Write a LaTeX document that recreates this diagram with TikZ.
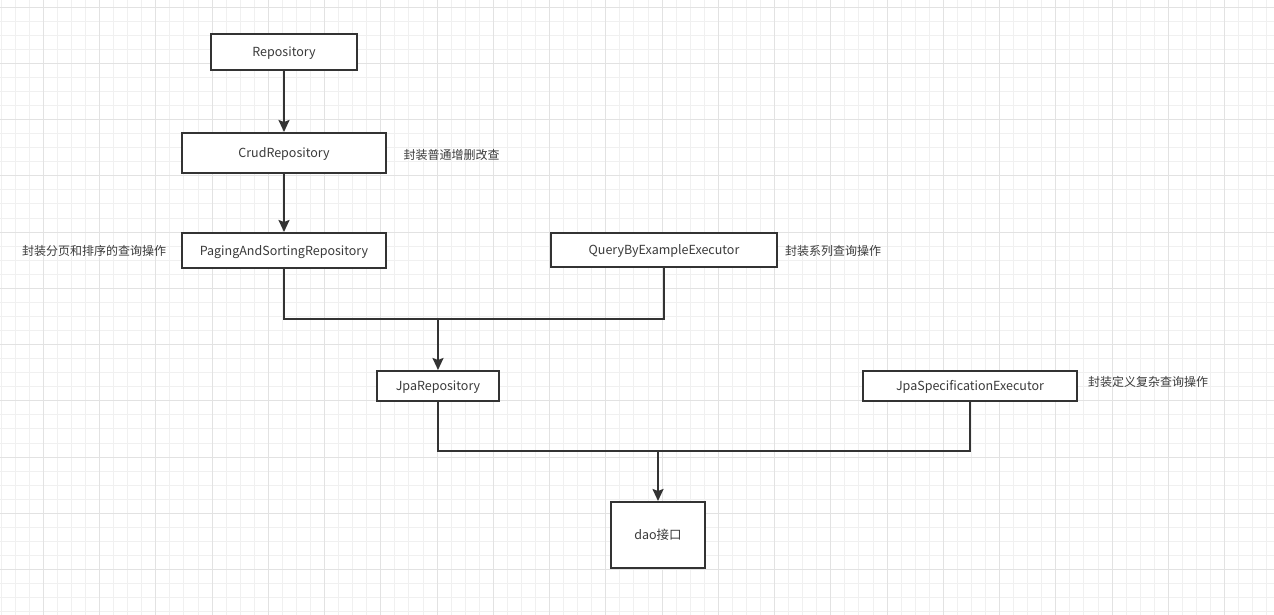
\documentclass[tikz,border=0pt]{standalone}
\usepackage{fontspec}
\setmainfont{Noto Sans CJK SC}
\usetikzlibrary{arrows.meta}
\definecolor{ink}{HTML}{333333}
\definecolor{txt}{HTML}{3A3A3A}
\definecolor{gminor}{HTML}{F0F0F0}
\definecolor{gmajor}{HTML}{E2E2E2}
\tikzset{
  box/.style={draw=ink, line width=2pt, fill=white, inner sep=0pt, text=txt,
    font=\fontsize{12.5pt}{14pt}\selectfont, text height=10.5pt, text depth=1pt},
  note/.style={anchor=west, inner sep=0pt, text=txt, font=\fontsize{12pt}{14pt}\selectfont,
    text height=10pt, text depth=0.5pt},
  link/.style={draw=ink, line width=2pt},
  arr/.style={link, -{Stealth[length=12pt,width=11pt,inset=2pt]}},
  minorline/.style={draw=gminor, line width=0.9pt},
  majorline/.style={draw=gmajor, line width=0.9pt}
}
\begin{document}
\begin{tikzpicture}[x=1pt,y=-1pt]
\fill[white] (0,0) rectangle (1274,615);
\useasboundingbox (0,0) rectangle (1274,615);
% grid
\foreach \i in {0,...,91} {\draw[minorline] ({1.1+\i*14.0625},0) -- ({1.1+\i*14.0625},615);}
\foreach \i in {0,...,44} {\draw[minorline] (0,{7.05+\i*14.0625}) -- (1274,{7.05+\i*14.0625});}
\foreach \i in {0,...,23} {\draw[majorline] ({43.3+\i*56.25},0) -- ({43.3+\i*56.25},615);}
\foreach \i in {0,...,11} {\draw[majorline] (0,{7.05+\i*56.25}) -- (1274,{7.05+\i*56.25});}
% nodes
\node[box, minimum width=146pt, minimum height=36pt] (repo) at (284,52) {Repository};
\node[box, minimum width=204pt, minimum height=40pt] (crud) at (284,153) {CrudRepository};
\node[box, minimum width=204pt, minimum height=35pt] (paging) at (284,250.5) {PagingAndSortingRepository};
\node[box, minimum width=226pt, minimum height=34pt] (qbe) at (664,250) {QueryByExampleExecutor};
\node[box, minimum width=122pt, minimum height=30pt] (jpa) at (438,386) {JpaRepository};
\node[box, minimum width=214pt, minimum height=30pt] (jse) at (970,386) {JpaSpecificationExecutor};
\node[box, minimum width=94pt, minimum height=66pt] (dao) at (658,535) {dao接口};
% notes
\node[note] (ncrud) at (403.3,154.3) {封装普通增删改查};
\node[note] (npaging) at (22,251) {封装分页和排序的查询操作};
\node[note] (nqbe) at (785,251) {封装系列查询操作};
\node[note] (njse) at (1088,382) {封装定义复杂查询操作};
% connectors
\coordinate (j1) at (438,319);
\coordinate (j2) at (658,451);
\draw[arr] (repo.south) -- (crud.north);
\draw[arr] (crud.south) -- (paging.north);
\draw[link] (paging.south) |- (j1);
\draw[link] (qbe.south) |- (j1);
\draw[arr] (j1) -- (jpa.north);
\draw[link] (jpa.south) |- (j2);
\draw[link] (jse.south) |- (j2);
\draw[arr] (j2) -- (dao.north);
\end{tikzpicture}
\end{document}
